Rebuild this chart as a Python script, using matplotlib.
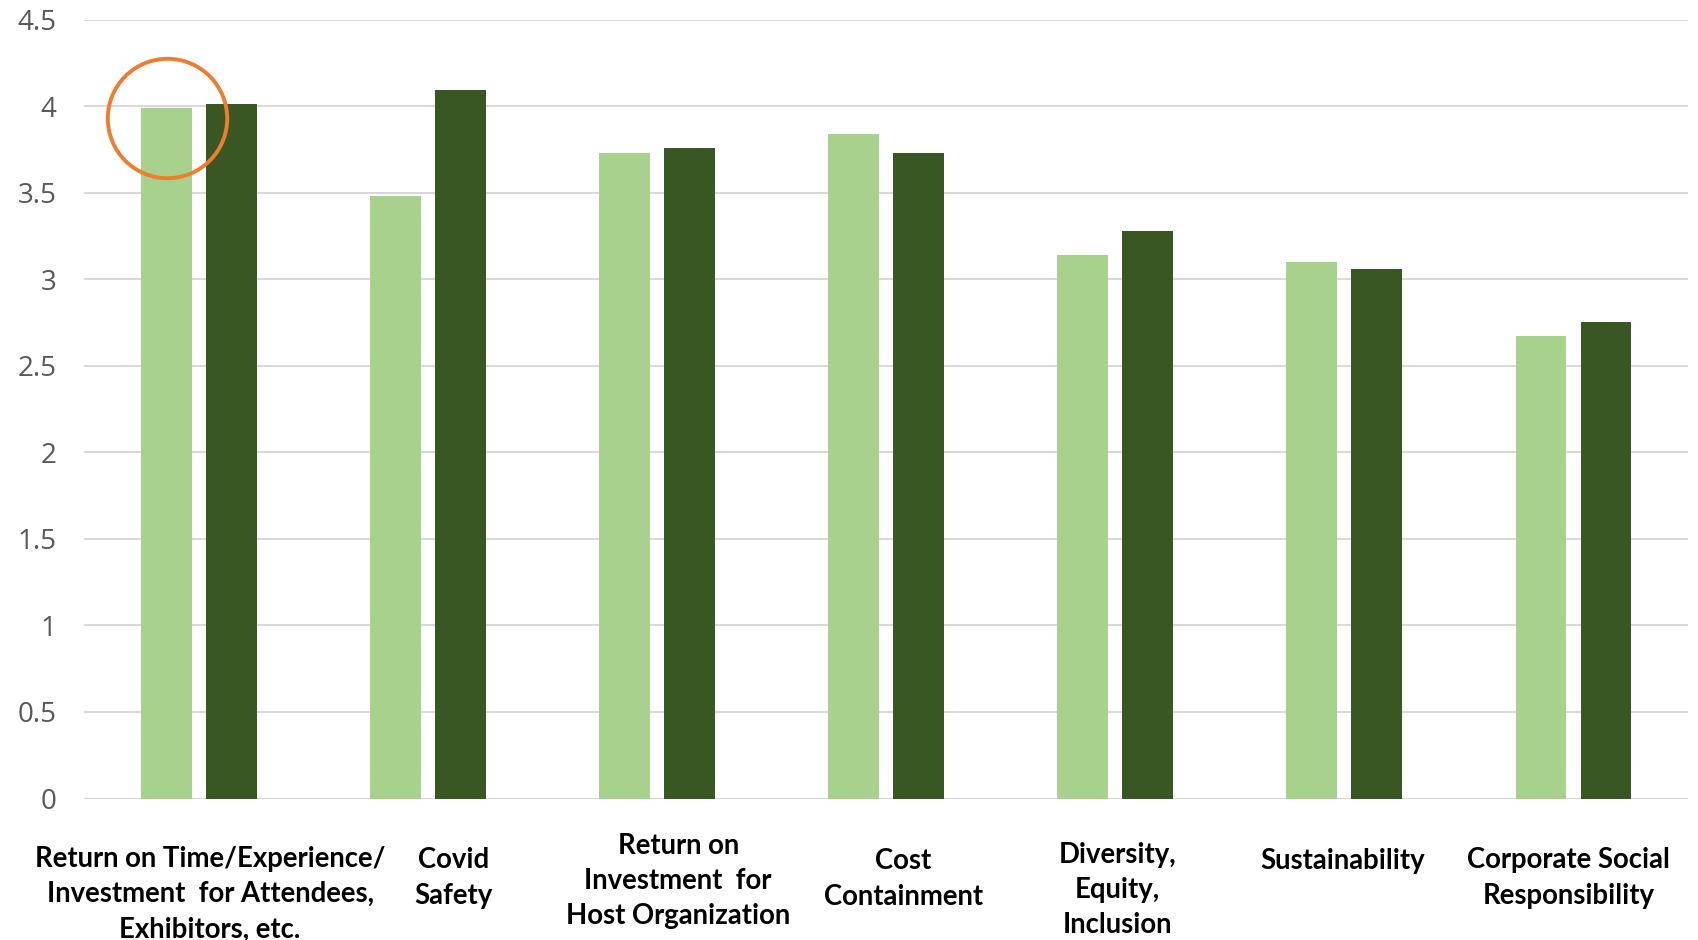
import matplotlib
matplotlib.use("Agg")
import matplotlib.pyplot as plt
import numpy as np

# data
categories = [
    "Return on Time/Experience/\nInvestment  for Attendees,\nExhibitors, etc.",
    "Covid\nSafety",
    "Return on\nInvestment  for\nHost Organization",
    "Cost\nContainment",
    "Diversity,\nEquity,\nInclusion",
    "Sustainability",
    "Corporate Social\nResponsibility",
]
series_light = [3.99, 3.48, 3.73, 3.84, 3.14, 3.10, 2.67]
series_dark = [4.01, 4.09, 3.76, 3.73, 3.28, 3.06, 2.75]
yticks = [0, 0.5, 1, 1.5, 2, 2.5, 3, 3.5, 4, 4.5]
ytick_labels = ["0", "0.5", "1", "1.5", "2", "2.5", "3", "3.5", "4", "4.5"]

# label placement (pixels): vertical centre, horizontal shift from category centre
label_y_px = [894, 878, 881, 879, 890, 861, 878]
label_dx_px = [11, 25, 21, 17, 2, -2, -5]

W, H = 1699, 940
fig = plt.figure(figsize=(W / 100, H / 100), dpi=100)
ax = fig.add_axes([84.5 / W, 1 - 798.5 / H, (1688 - 84.5) / W, (798.5 - 19.5) / H])

x = np.arange(len(categories))
bw = 0.222
off = 0.142
ax.bar(x - off, series_light, bw, color="#A9D18E", zorder=3)
ax.bar(x + off, series_dark, bw, color="#385723", zorder=3)

ax.set_xlim(-0.5, len(categories) - 0.5)
ax.set_ylim(0, 4.5)
ax.set_yticks(yticks)
ax.set_yticklabels(ytick_labels, fontsize=20, color="#595959", family=["Open Sans", "DejaVu Sans"])
ax.tick_params(axis="y", length=0, pad=20)
ax.tick_params(axis="x", length=0, labelbottom=False)
ax.grid(axis="y", color="#D9D9D9", linewidth=1.5, zorder=0)
for s in ax.spines.values():
    s.set_visible(False)

# category labels under the bars
for i, lab in enumerate(categories):
    fx = (84.5 + (i + 0.5) * (1688 - 84.5) / len(categories) + label_dx_px[i]) / W
    fig.text(fx, 1 - label_y_px[i] / H, lab, ha="center", va="center",
             fontsize=19.8, fontweight="bold", linespacing=1.45,
             family=["Lato", "DejaVu Sans"])

# orange highlight circle on the first light bar
ax.plot([x[0] - off], [3.93], marker="o", markersize=86, markerfacecolor="none",
        markeredgecolor="#ED7D31", markeredgewidth=2.8, clip_on=False, zorder=4)

fig.savefig("out.png", dpi=100)
